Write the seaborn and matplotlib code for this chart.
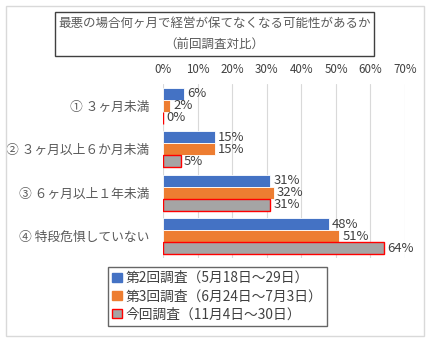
import matplotlib
matplotlib.use("Agg")
import matplotlib.pyplot as plt
from matplotlib.patches import Rectangle, Patch
import seaborn as sns
import pandas as pd

categories = ["① ３ヶ月未満", "② ３ヶ月以上６か月未満", "③ ６ヶ月以上１年未満", "④ 特段危惧していない"]
series = ["第2回調査（5月18日～29日）", "第3回調査（6月24日～7月3日）", "今回調査（11月4日～30日）"]
survey2 = [6, 15, 31, 48]
survey3 = [2, 15, 32, 51]
current = [0, 5, 31, 64]
xticks = [0, 10, 20, 30, 40, 50, 60, 70]
title_lines = ["最悪の場合何ヶ月で経営が保てなくなる可能性があるか", "（前回調査対比）"]

colors = ["#4472C4", "#ED7D31", "#A5A5A5"]

rows = []
for s, vals in zip(series, [survey2, survey3, current]):
    for c, v in zip(categories, vals):
        rows.append({"category": c, "survey": s, "value": v})
df = pd.DataFrame(rows)

sns.set_style("white")
plt.rcParams["font.family"] = ["Noto Sans CJK JP", "DejaVu Sans"]

fig = plt.figure(figsize=(4.31, 3.43), dpi=100)
ax = fig.add_axes([163.3 / 431, 1 - 258 / 343, 241.7 / 431, 174 / 343])

sns.barplot(data=df, x="value", y="category", hue="survey", orient="h",
            palette=colors, width=0.82, ax=ax, legend=False, saturation=1)

for i, cont in enumerate(ax.containers):
    for bar in cont:
        if i == 2:
            bar.set_edgecolor("#FF0000")
            bar.set_linewidth(1.0)
        else:
            bar.set_edgecolor("white")
            bar.set_linewidth(0.6)
    ax.bar_label(cont, fmt="%d%%", padding=2, fontsize=9.4, color="#404040")

ax.set_xlim(0, 70)
ax.set_ylim(3.5, -0.5)
ax.set_xticks(xticks)
ax.set_xticklabels([f"{t}%" for t in xticks])
ax.xaxis.tick_top()
ax.tick_params(axis="x", length=0, labelsize=8.3, labelcolor="#404040", pad=6)
ax.tick_params(axis="y", length=0, labelsize=9.2, labelcolor="#595959", pad=10)
ax.set_xlabel("")
ax.set_ylabel("")
ax.grid(axis="x", color="#D9D9D9", linewidth=0.8)
ax.set_axisbelow(True)
for sp in ax.spines.values():
    sp.set_visible(False)

# outer chart border
fig.patches.append(Rectangle((6 / 431, 1 - 336 / 343), 418 / 431, 330 / 343,
                             transform=fig.transFigure, fill=False,
                             edgecolor="#D9D9D9", linewidth=1.0))
# title box
fig.patches.append(Rectangle((55 / 431, 1 - 56 / 343), 319 / 431, 44 / 343,
                             transform=fig.transFigure, fill=False,
                             edgecolor="#404040", linewidth=1.0))
fig.text(214.5 / 431, 1 - 23 / 343, title_lines[0], ha="center", va="center",
         fontsize=9.0, color="#595959")
fig.text(214.5 / 431, 1 - 45 / 343, title_lines[1], ha="center", va="center",
         fontsize=9.0, color="#595959")

handles = [Patch(facecolor=colors[0], edgecolor=colors[0]),
           Patch(facecolor=colors[1], edgecolor=colors[1]),
           Patch(facecolor=colors[2], edgecolor="#FF0000", linewidth=1.0)]
leg = fig.legend(handles, series, loc="upper left",
                 bbox_to_anchor=(108 / 431, 1 - 267 / 343),
                 bbox_transform=fig.transFigure, fontsize=9.9,
                 handlelength=0.7, handleheight=0.7, handletextpad=0.3,
                 labelspacing=0.3, borderpad=0.3, borderaxespad=0,
                 fancybox=False, frameon=True)
leg.get_frame().set_edgecolor("#404040")
leg.get_frame().set_linewidth(1.0)
for t in leg.get_texts():
    t.set_color("#404040")

fig.savefig("out.png", dpi=100)
